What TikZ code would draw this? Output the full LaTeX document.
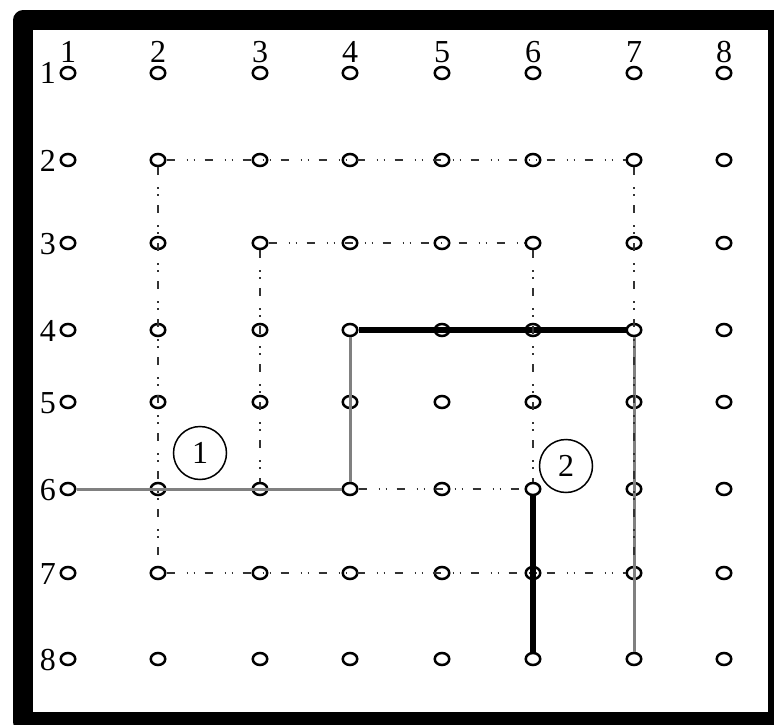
\documentclass[tikz,border=0pt]{standalone}
\usepackage{fontspec}
\setmainfont{Liberation Serif}
\usetikzlibrary{shapes.geometric}
\begin{document}
\begin{tikzpicture}[x=1pt,y=-1pt,
  pt/.style={draw=black,ellipse,line width=2.5pt,minimum width=14.5pt,minimum height=12pt,inner sep=0pt},
  lbl/.style={font=\fontsize{32}{32}\selectfont,inner sep=0pt},
  tag/.style={draw=black,circle,line width=1.5pt,minimum size=53pt,inner sep=0pt,font=\fontsize{32}{32}\selectfont},
  dashdot/.style={draw=black!80,line width=2.3pt,dash pattern=on 8pt off 12pt on 1.5pt off 5.5pt on 1.5pt off 9.5pt},
  graypath/.style={draw=black!50,line width=3pt},
  blackpath/.style={draw=black,line width=5.5pt}]
\useasboundingbox (0,0) rectangle (774,725);
\clip (0,0) rectangle (774,725);
% frame
\draw[line width=20pt,line join=round] (23,20.5) rectangle (778,722);
% grid nodes
\foreach \c/\x in {1/68,2/158,3/260,4/350,5/442,6/533,7/634,8/724}{
  \foreach \r/\y in {1/73,2/160,3/243,4/330,5/402,6/489,7/573,8/659}{
    \node[pt] (n\c\r) at (\x,\y) {};
  }
}
% column labels
\foreach \c/\x in {1/68,2/158,3/260,4/350,5/442,6/533,7/634,8/724}{
  \node[lbl,anchor=base] (col\c) at (\x,63) {\c};
}
% row labels
\foreach \r/\y in {1/73,2/160,3/243,4/330,5/402,6/489,7/573,8/659}{
  \node[lbl,anchor=base east] (row\r) at (56,\y+11) {\r};
}
% solid paths
\draw[graypath] (n16) -- (n46);
\draw[graypath] (n46) -- (n44);
\draw[graypath] (n74) -- (n78);
\draw[blackpath] (n44) -- (n74);
\draw[blackpath] (n66) -- (n68);
% dash-dot loops
\draw[dashdot] (n22) -- (n72);
\draw[dashdot] (n22) -- (n27);
\draw[dashdot] (n27) -- (n77);
\draw[dashdot] (n72) -- (n77);
\draw[dashdot] (n33) -- (n63);
\draw[dashdot] (n33) -- (n36);
\draw[dashdot] (n63) -- (n66);
\draw[dashdot] (n46) -- (n66);
% circled tags
\node[tag] (t1) at (200,453) {1};
\node[tag] (t2) at (566,466) {2};
\end{tikzpicture}
\end{document}
